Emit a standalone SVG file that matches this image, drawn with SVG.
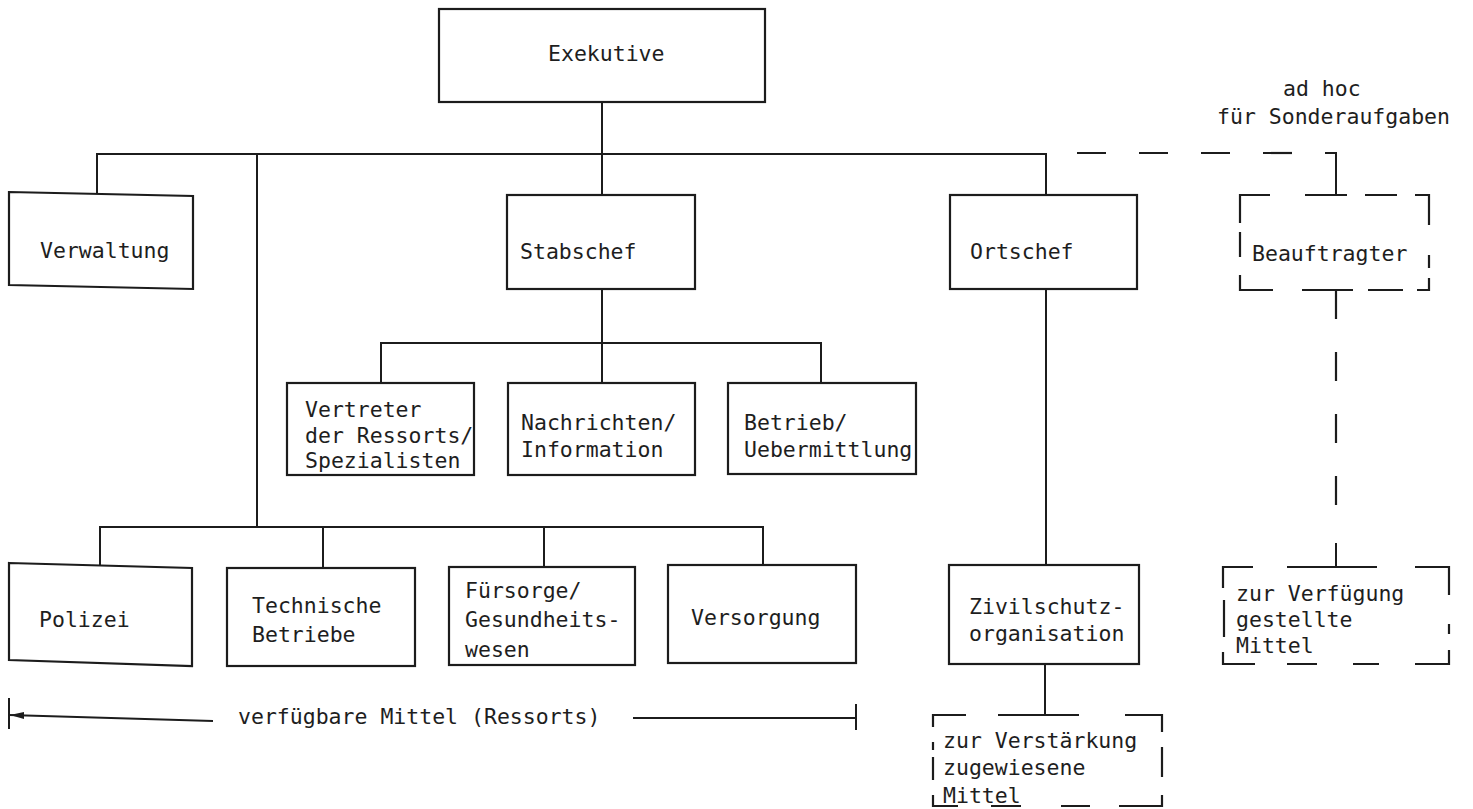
<svg xmlns="http://www.w3.org/2000/svg" width="1473" height="809" viewBox="0 0 1473 809">
<style>
  .box { fill: #fff; stroke: #1c1c1c; stroke-width: 2.2; }
  .dbox { fill: none; stroke: #1c1c1c; stroke-width: 2.2; stroke-linecap: butt; }
  .ln { fill: none; stroke: #1c1c1c; stroke-width: 2; }
  .dash { fill: none; stroke: #1c1c1c; stroke-width: 2.2; stroke-dasharray: 29 33; }
  text { font-family: "DejaVu Sans Mono", "Liberation Mono", monospace; font-size: 21.5px; fill: #1e1e1e; }
</style>
<rect width="1473" height="809" fill="#fff"/>

<g id="connectors">
  <path class="ln" d="M602,102 V195"/>
  <path class="ln" d="M97,194 V154 H1046 V195"/>
  <path class="ln" d="M257,154 V527"/>
  <path class="ln" d="M100,565 V527 H763 V565"/>
  <path class="ln" d="M323,527 V568"/>
  <path class="ln" d="M544,527 V567"/>
  <path class="ln" d="M602,289 V383"/>
  <path class="ln" d="M381,383 V343 H821 V383"/>
  <path class="ln" d="M1046,289 V565"/>
  <path class="ln" d="M1045,664 V715"/>
  <path class="dash" d="M1077,153 H1322"/>
  <path class="ln" d="M1325,153 H1336 V195"/>
  <path class="dash" d="M1336,290 V506"/>
  <path class="ln" d="M1336,543 V567"/>
  <g id="bracket">
    <path class="ln" d="M9,698 V729"/>
    <path class="ln" d="M9,715 L213,721"/>
    <polygon points="10,715 24,712 24,719" fill="#1c1c1c"/>
    <path class="ln" d="M633,718 H856"/>
    <path class="ln" d="M856,704 V730"/>
    <text x="238" y="724">verfügbare Mittel (Ressorts)</text>
  </g>
  <text x="1283" y="96">ad hoc</text>
  <text x="1217" y="124">für Sonderaufgaben</text>
</g>

<g id="exekutive">
  <rect class="box" x="439" y="9" width="326" height="93"/>
  <text x="548" y="61">Exekutive</text>
</g>

<g id="verwaltung">
  <polygon class="box" points="9,192 193,196 193,289 9,285"/>
  <text x="40" y="258">Verwaltung</text>
</g>

<g id="stabschef">
  <rect class="box" x="507" y="195" width="188" height="94"/>
  <text x="520" y="259">Stabschef</text>
</g>

<g id="ortschef">
  <rect class="box" x="950" y="195" width="187" height="94"/>
  <text x="970" y="259">Ortschef</text>
</g>

<g id="beauftragter">
  <path class="dbox" d="M1240,223 V195 H1270 M1305,195 H1347 M1365,195 H1397 M1415,195 H1429 V225 M1240,232 V257 M1240,275 V290 H1273 M1302,290 H1353 M1368,290 H1403 M1417,290 H1429 V278 M1429,255 V268"/>
  <text x="1252" y="261">Beauftragter</text>
</g>

<g id="vertreter">
  <rect class="box" x="287" y="383" width="187" height="92"/>
  <text x="305" y="417">Vertreter</text>
  <text x="305" y="443">der Ressorts/</text>
  <text x="305" y="468">Spezialisten</text>
</g>

<g id="nachrichten">
  <rect class="box" x="508" y="383" width="187" height="92"/>
  <text x="521" y="430">Nachrichten/</text>
  <text x="521" y="457">Information</text>
</g>

<g id="betrieb">
  <rect class="box" x="728" y="383" width="188" height="91"/>
  <text x="744" y="430">Betrieb/</text>
  <text x="744" y="457">Uebermittlung</text>
</g>

<g id="polizei">
  <polygon class="box" points="9,563 192,568 192,666 9,660"/>
  <text x="39" y="627">Polizei</text>
</g>

<g id="technische">
  <rect class="box" x="227" y="568" width="188" height="98"/>
  <text x="252" y="613">Technische</text>
  <text x="252" y="642">Betriebe</text>
</g>

<g id="fuersorge">
  <rect class="box" x="449" y="567" width="186" height="98"/>
  <text x="465" y="598">Fürsorge/</text>
  <text x="465" y="627">Gesundheits-</text>
  <text x="465" y="657">wesen</text>
</g>

<g id="versorgung">
  <rect class="box" x="668" y="565" width="188" height="98"/>
  <text x="691" y="625">Versorgung</text>
</g>

<g id="zivilschutz">
  <rect class="box" x="949" y="565" width="190" height="99"/>
  <text x="969" y="614">Zivilschutz-</text>
  <text x="969" y="641">organisation</text>
</g>

<g id="verfuegung">
  <path class="dbox" d="M1223,588 V567 H1253 M1287,567 H1377 M1415,567 H1449 V595 M1224,600 V637 M1223,652 V664 H1255 M1287,664 H1317 M1353,664 H1379 M1415,664 H1449 V650 M1449,624 V634"/>
  <text x="1236" y="601">zur Verfügung</text>
  <text x="1236" y="627">gestellte</text>
  <text x="1236" y="653">Mittel</text>
</g>

<g id="verstaerkung">
  <path class="dbox" d="M933,727 V715 H966 M998,715 H1079 M1125,715 H1162 V732 M933,742 V750 M933,757 V780 M933,795 V806 H958 M991,806 H1021 M1061,806 H1090 M1119,806 H1162 V795 M1162,747 V777"/>
  <text x="943" y="748">zur Verstärkung</text>
  <text x="943" y="775">zugewiesene</text>
  <text x="943" y="803">Mittel</text>
</g>
</svg>
